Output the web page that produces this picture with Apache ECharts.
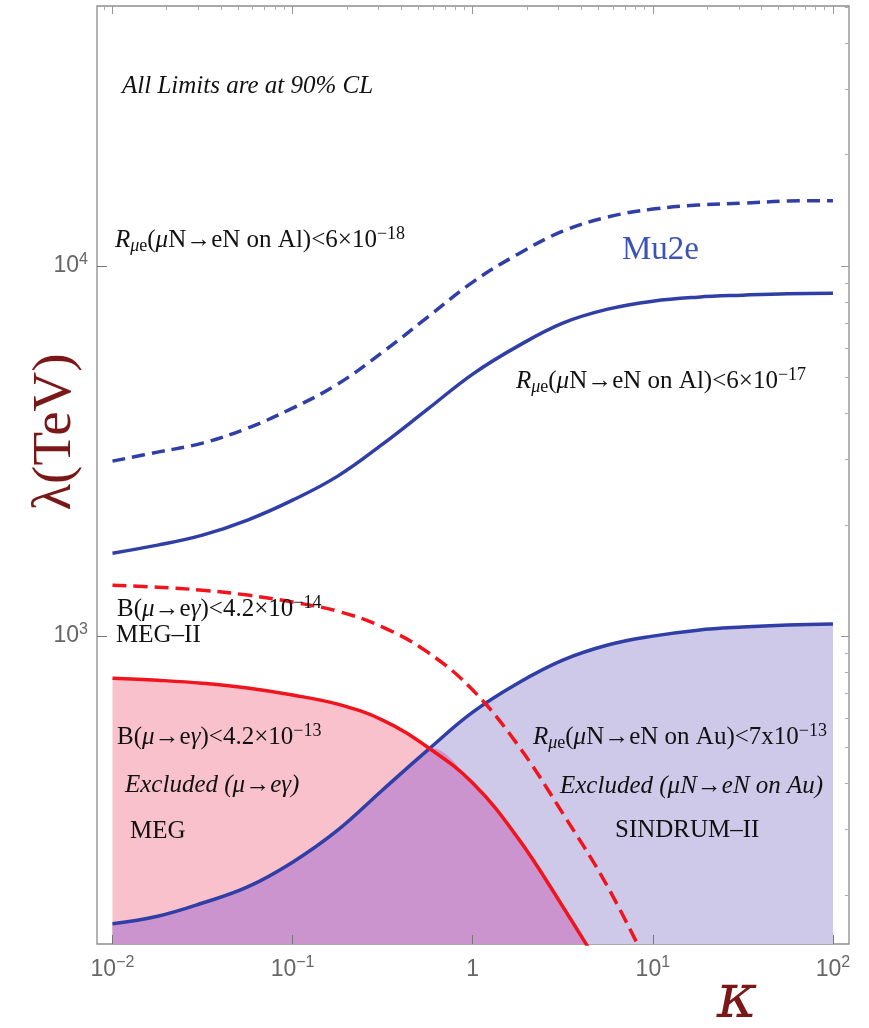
<!DOCTYPE html>
<html>
<head>
<meta charset="utf-8">
<script src="https://cdn.jsdelivr.net/npm/echarts@6/dist/echarts.min.js"></script>
<style>
  html, body { margin: 0; padding: 0; background: #fff; }
  #main { width: 869px; height: 1028px; }
</style>
</head>
<body>
<div id="main"></div>
<script>
// kappa grid (quarter decades) and lambda limits in TeV
var kappa = [0.01, 0.0178, 0.0316, 0.0562, 0.1, 0.178, 0.316, 0.562, 1, 1.78, 3.16, 5.62, 10, 17.8, 31.6, 56.2, 100];
var mu2eAl18 = [2972, 3143, 3324, 3649, 4133, 4799, 5855, 7282, 9053, 10770, 12430, 13570, 14260, 14620, 14800, 14990, 15030];
var mu2eAl17 = [1676, 1762, 1875, 2059, 2331, 2707, 3303, 4107, 5108, 6078, 7015, 7651, 8042, 8245, 8348, 8427, 8453];
var sindrumAu = [167, 175, 190, 210, 245, 299, 384, 492, 623, 746, 861, 946, 1000, 1038, 1058, 1071, 1078];
var megII = [1373, 1356, 1331, 1291, 1236, 1168, 1058, 905, 715, 508, 332, 210, 121];
var meg = [770, 760, 746, 724, 693, 655, 593, 501, 401, 285, 186, 118];
var crossKappa = 0.575, crossLambda = 499; // MEG / SINDRUM crossing

var xMajor = [-2, -1, 0, 1, 2];
var yMajor = [3, 4];

var X_MIN = -2.086, X_MAX = 2.089, Y_MIN = 2.168, Y_MAX = 4.703;

var pts = function (ks, ls) {
  return ks.map(function (k, i) { return [Math.log10(k), Math.log10(ls[i])]; });
};

// minor tick positions (2..9 x 10^n)
var minorTicks = function (lo, hi) {
  var out = [];
  for (var n = -4; n <= 5; n++) {
    for (var k = 2; k <= 9; k++) {
      var v = n + Math.log10(k);
      if (v > lo && v < hi) out.push(v);
    }
  }
  return out;
};

// overlap region: under SINDRUM left of the crossing, under MEG right of it
var overlap = pts(kappa.slice(0, 8), sindrumAu.slice(0, 8))
  .concat([[Math.log10(crossKappa), Math.log10(crossLambda)]])
  .concat(pts(kappa.slice(8, 12), meg.slice(8, 12)));

var BLUE = '#2f3fa6', RED = '#f2141c';
var SERIF = '"Liberation Serif", "DejaVu Serif", serif';
var SANS = '"Liberation Sans", Arial, sans-serif';

var expLabel = function (v) {
  if (v === 0) return '{b|1}';
  return '{b|10}{s|' + (v < 0 ? '\u2212' + (-v) : v) + '}';
};
var tickRich = {
  b: { fontFamily: SANS, fontSize: 23, color: '#666', lineHeight: 30 },
  s: { fontFamily: SANS, fontSize: 16, color: '#666', lineHeight: 12, verticalAlign: 'top' }
};

var baseAxis = {
  type: 'value',
  axisLine: { show: false, onZero: false },
  splitLine: { show: false },
  z: 5
};
var ax = function (extra) { return Object.assign({}, baseAxis, extra); };

var chart = echarts.init(document.getElementById('main'));

var RICH = {
  n: { fontFamily: SERIF, fontSize: 25, fill: '#111', lineHeight: 30 },
  i: { fontFamily: SERIF, fontSize: 25, fontStyle: 'italic', fill: '#111', lineHeight: 30 },
  si: { fontFamily: SERIF, fontSize: 18, fontStyle: 'italic', fill: '#111', lineHeight: 16, verticalAlign: 'bottom' },
  s: { fontFamily: SERIF, fontSize: 18, fill: '#111', lineHeight: 16, verticalAlign: 'bottom' },
  p: { fontFamily: SERIF, fontSize: 18, fill: '#111', lineHeight: 10, verticalAlign: 'top' }
};
var txt = function (x, y, text) {
  return {
    type: 'text', x: x, y: y, z: 50,
    style: { text: text, rich: RICH, align: 'left', verticalAlign: 'middle', textAlign: 'left', textVerticalAlign: 'middle' }
  };
};

chart.setOption({
  animation: false,
  grid: { left: 97, top: 6, width: 752, height: 938, show: true, borderColor: '#8c8c8c', borderWidth: 1.3, backgroundColor: 'transparent' },
  xAxis: [
    ax({ position: 'bottom', min: X_MIN, max: X_MAX,
      axisTick: { inside: true, length: 9, customValues: xMajor, lineStyle: { color: '#777' } },
      axisLabel: { customValues: xMajor, margin: 11, formatter: expLabel, rich: tickRich } }),
    ax({ position: 'top', min: X_MIN, max: X_MAX,
      axisTick: { inside: true, length: 8, customValues: xMajor, lineStyle: { color: '#999' } },
      axisLabel: { show: false } }),
    ax({ position: 'top', min: X_MIN, max: X_MAX,
      axisTick: { inside: true, length: 4, customValues: minorTicks(X_MIN, X_MAX), lineStyle: { color: '#aaa' } },
      axisLabel: { show: false } })
  ],
  yAxis: [
    ax({ position: 'left', min: Y_MIN, max: Y_MAX,
      axisTick: { inside: true, length: 10, customValues: yMajor, lineStyle: { color: '#777' } },
      axisLabel: { customValues: yMajor, margin: 9, formatter: expLabel, rich: tickRich } }),
    ax({ position: 'right', min: Y_MIN, max: Y_MAX,
      axisTick: { inside: true, length: 8, customValues: yMajor, lineStyle: { color: '#999' } },
      axisLabel: { show: false } }),
    ax({ position: 'right', min: Y_MIN, max: Y_MAX,
      axisTick: { inside: true, length: 4, customValues: minorTicks(Y_MIN, Y_MAX), lineStyle: { color: '#aaa' } },
      axisLabel: { show: false } })
  ],
  series: [
    { type: 'line', name: 'SINDRUM fill', data: pts(kappa, sindrumAu), smooth: 0.4, symbol: 'none', z: 1,
      lineStyle: { width: 0 }, areaStyle: { color: '#cfc9e9', opacity: 1, origin: 'start' } },
    { type: 'line', name: 'MEG fill', data: pts(kappa.slice(0, 12), meg), smooth: 0.4, symbol: 'none', z: 1,
      lineStyle: { width: 0 }, areaStyle: { color: '#f8c1cb', opacity: 1, origin: 'start' } },
    { type: 'line', name: 'overlap', data: overlap, smooth: 0.4, symbol: 'none', z: 1,
      lineStyle: { width: 0 }, areaStyle: { color: '#cc94cf', opacity: 1, origin: 'start' } },
    { type: 'line', name: 'Mu2e 6e-18', data: pts(kappa, mu2eAl18), smooth: 0.4, symbol: 'none', z: 3,
      lineStyle: { color: BLUE, width: 3.5, type: [13, 7] } },
    { type: 'line', name: 'Mu2e 6e-17', data: pts(kappa, mu2eAl17), smooth: 0.4, symbol: 'none', z: 3,
      lineStyle: { color: BLUE, width: 3.5 } },
    { type: 'line', name: 'SINDRUM-II', data: pts(kappa, sindrumAu), smooth: 0.4, symbol: 'none', z: 3,
      lineStyle: { color: BLUE, width: 3.5 } },
    { type: 'line', name: 'MEG-II', data: pts(kappa.slice(0, 13), megII), smooth: 0.4, symbol: 'none', z: 3,
      lineStyle: { color: RED, width: 3.5, type: [14, 7] } },
    { type: 'line', name: 'MEG', data: pts(kappa.slice(0, 12), meg), smooth: 0.4, symbol: 'none', z: 3,
      lineStyle: { color: RED, width: 3.5 } }
  ],
  graphic: [
    txt(122, 86, '{i|All Limits are at 90% CL}'),
    txt(115, 240, '{i|R}{si|\u03bc}{s|e}{n|(}{i|\u03bc}{n|N\u2192eN on Al)<6\u00d710}{p|\u221218}'),
    { type: 'text', x: 622, y: 250, z: 50,
      style: { text: 'Mu2e', fontFamily: SERIF, fontSize: 33, fill: '#3d52b5', align: 'left', verticalAlign: 'middle', textAlign: 'left', textVerticalAlign: 'middle' } },
    txt(516, 381, '{i|R}{si|\u03bc}{s|e}{n|(}{i|\u03bc}{n|N\u2192eN on Al)<6\u00d710}{p|\u221217}'),
    txt(117, 609, '{n|B(}{i|\u03bc}{n|\u2192e}{i|\u03b3}{n|)<4.2\u00d710}{p|\u221214}'),
    txt(116, 635, '{n|MEG\u2013II}'),
    txt(117, 737, '{n|B(}{i|\u03bc}{n|\u2192e}{i|\u03b3}{n|)<4.2\u00d710}{p|\u221213}'),
    txt(125, 785, '{i|Excluded (\u03bc\u2192e\u03b3)}'),
    txt(130, 831, '{n|MEG}'),
    txt(533, 737, '{i|R}{si|\u03bc}{s|e}{n|(}{i|\u03bc}{n|N\u2192eN on Au)<7x10}{p|\u221213}'),
    txt(560, 786, '{i|Excluded (\u03bcN\u2192eN on Au)}'),
    txt(615, 830, '{n|SINDRUM\u2013II}'),
    { type: 'text', x: 56, y: 432, rotation: Math.PI / 2, z: 50,
      style: { text: '\u03bb(TeV)', fontFamily: SERIF, fontSize: 55, fill: '#7a1717', align: 'center', verticalAlign: 'middle', textAlign: 'center', textVerticalAlign: 'middle' } },
    { type: 'text', x: 737, y: 1001, z: 50,
      style: { text: '\u03ba', fontFamily: '"DejaVu Serif", serif', fontSize: 62, fontStyle: 'italic', fill: '#7a1717', align: 'center', verticalAlign: 'middle', textAlign: 'center', textVerticalAlign: 'middle' } }
  ]
});
</script>
</body>
</html>
